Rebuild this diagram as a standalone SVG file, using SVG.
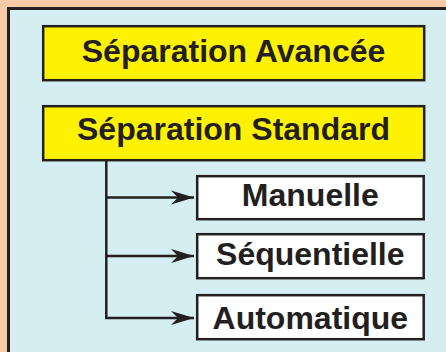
<svg xmlns="http://www.w3.org/2000/svg" width="446" height="352" viewBox="0 0 446 352">
<defs>
<style>
.box{stroke:#231F20;stroke-width:2.5}
.y{fill:#FFF200}
.w{fill:#FFFFFF}
.t{font-family:"Liberation Sans",Arial,sans-serif;font-weight:bold;font-size:32px;fill:#231F20;text-anchor:middle}
.c{fill:none;stroke:#231F20;stroke-width:2.5}
</style>
<marker id="ah" markerWidth="24" markerHeight="16" refX="23" refY="8" orient="auto" markerUnits="userSpaceOnUse">
<path d="M0,1 L23,8 L0,15 L7,8 Z" fill="#231F20"/>
</marker>
</defs>
<rect x="0" y="0" width="446" height="352" fill="#F7CBA8"/>
<rect x="8.5" y="8.5" width="445" height="350" fill="#D4EEF2" stroke="#231F20" stroke-width="3"/>
<g id="n-avancee">
<rect class="box y" x="43.2" y="26.2" width="381" height="54"/>
<text class="t" x="233.5" y="62.3">Séparation Avancée</text>
</g>
<g id="n-standard">
<rect class="box y" x="43.2" y="106.2" width="381" height="54"/>
<text class="t" x="233.5" y="140">Séparation Standard</text>
</g>
<g id="n-manuelle">
<rect class="box w" x="197.2" y="176.2" width="226.5" height="43"/>
<text class="t" x="310.3" y="206">Manuelle</text>
</g>
<g id="n-sequentielle">
<rect class="box w" x="197.2" y="234.2" width="226.5" height="44"/>
<text class="t" x="310.3" y="265">Séquentielle</text>
</g>
<g id="n-automatique">
<rect class="box w" x="197.2" y="295.2" width="226.5" height="44"/>
<text class="t" x="310.3" y="329">Automatique</text>
</g>
<g id="connectors">
<path class="c" d="M106.3,161 V318 H194" marker-end="url(#ah)"/>
<path class="c" d="M106.3,197.5 H194" marker-end="url(#ah)"/>
<path class="c" d="M106.3,256 H194" marker-end="url(#ah)"/>
</g>
</svg>
